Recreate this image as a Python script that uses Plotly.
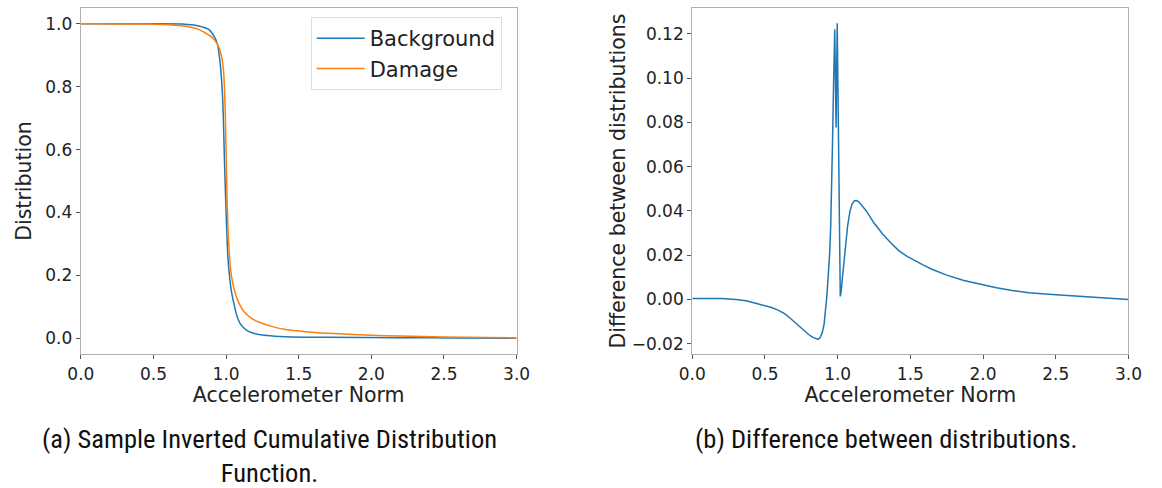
import plotly.graph_objects as go

# ---- Left panel: inverted CDFs ----
bg_x = [0.0, 0.5, 0.70, 0.81, 0.88, 0.916, 0.94, 0.96, 0.977, 0.99, 1.003, 1.012, 1.025, 1.04, 1.054, 1.075, 1.099, 1.14, 1.188, 1.28, 1.41, 1.7, 2.19, 2.6, 3.0]
bg_y = [1.0, 1.0, 0.999, 0.993, 0.982, 0.961, 0.935, 0.87, 0.756, 0.545, 0.36, 0.26, 0.19, 0.14, 0.11, 0.07, 0.045, 0.026, 0.016, 0.009, 0.005, 0.003, 0.002, 0.001, 0.0]

dm_x = [0.0, 0.45, 0.68, 0.81, 0.905, 0.94, 0.968, 0.984, 0.995, 1.007, 1.018, 1.036, 1.065, 1.09, 1.12, 1.17, 1.233, 1.32, 1.41, 1.55, 1.747, 2.0, 2.19, 2.5, 3.0]
dm_y = [1.0, 0.999, 0.994, 0.982, 0.956, 0.935, 0.898, 0.84, 0.703, 0.44, 0.30, 0.2, 0.14, 0.11, 0.087, 0.065, 0.05, 0.037, 0.028, 0.021, 0.015, 0.01, 0.007, 0.004, 0.001]

# ---- Right panel: difference between distributions ----
df_x = [0.0, 0.1, 0.2, 0.3, 0.37, 0.436, 0.49, 0.54, 0.59, 0.638, 0.68, 0.727, 0.765, 0.80,
        0.83, 0.85, 0.865, 0.88, 0.895, 0.907, 0.917, 0.925, 0.933, 0.94, 0.946, 0.952, 0.958,
        0.965, 0.972, 0.977, 0.980, 0.989, 0.997, 1.018, 1.024, 1.03, 1.04, 1.052, 1.068, 1.085,
        1.10, 1.115, 1.13, 1.145, 1.165, 1.197, 1.25, 1.309, 1.36, 1.42, 1.475, 1.53, 1.59,
        1.644, 1.75, 1.868, 1.98, 2.092, 2.2, 2.315, 2.45, 2.584, 2.7, 2.8, 2.9, 3.0]
df_y = [0.0005, 0.0005, 0.0004, 0.0, -0.0006, -0.0017, -0.0025, -0.0035, -0.0048, -0.0065,
        -0.0088, -0.0117, -0.0139, -0.0158, -0.0171, -0.0178, -0.018, -0.0172, -0.0147, -0.011,
        -0.005, 0.001, 0.0086, 0.015, 0.022, 0.033, 0.048, 0.072, 0.098, 0.114, 0.122, 0.0777,
        0.1247, 0.0014, 0.0035, 0.008, 0.015, 0.0236, 0.033, 0.040, 0.0432, 0.0446, 0.0447,
        0.0441, 0.0427, 0.040, 0.0345, 0.0296, 0.026, 0.0221, 0.0196, 0.0175, 0.0155, 0.0138,
        0.011, 0.0086, 0.0068, 0.0053, 0.0041, 0.003, 0.0024, 0.0018, 0.0012, 0.0008, 0.0004, 0.0]

x_ticks = [0.0, 0.5, 1.0, 1.5, 2.0, 2.5, 3.0]
left_y_ticks = [0.0, 0.2, 0.4, 0.6, 0.8, 1.0]
right_y_ticks = [-0.02, 0.0, 0.02, 0.04, 0.06, 0.08, 0.10, 0.12]
right_y_text = ["\u22120.02", "0.00", "0.02", "0.04", "0.06", "0.08", "0.10", "0.12"]

BLUE = "#1f77b4"
ORANGE = "#ff7f0e"
TICK_FONT = dict(family="DejaVu Sans", size=17, color="#222222")
TITLE_FONT = dict(family="DejaVu Sans", size=20.5, color="#222222")
CAP_FONT = dict(family="Liberation Sans Narrow, Roboto Condensed, Liberation Sans", size=26.5, color="#111111")

fig = go.Figure()
fig.add_trace(go.Scatter(x=bg_x, y=bg_y, mode="lines", name="Background",
                         line=dict(color=BLUE, width=1.5, shape="spline", smoothing=0.6),
                         xaxis="x", yaxis="y"))
fig.add_trace(go.Scatter(x=dm_x, y=dm_y, mode="lines", name="Damage",
                         line=dict(color=ORANGE, width=1.5, shape="spline", smoothing=0.6),
                         xaxis="x", yaxis="y"))
fig.add_trace(go.Scatter(x=df_x, y=df_y, mode="lines", name="Difference", showlegend=False,
                         line=dict(color=BLUE, width=1.5),
                         xaxis="x2", yaxis="y2"))

W, H = 1162, 488
def px_x(p):
    return p / W
def px_y(p):
    return 1 - p / H

axis_common = dict(showgrid=False, zeroline=False, showline=True, linecolor="#b0b0b0",
                   linewidth=1.2, mirror=True, ticks="outside", ticklen=4,
                   tickcolor="#555555", tickfont=TICK_FONT)

fig.update_layout(
    width=W, height=H,
    margin=dict(l=0, r=0, t=0, b=0),
    paper_bgcolor="white", plot_bgcolor="white",
    xaxis=dict(domain=[px_x(68.5), px_x(515)], range=[0, 3], tickvals=x_ticks,
               ticktext=[f"{v:.1f}" for v in x_ticks],
               title=dict(text="Accelerometer Norm", font=TITLE_FONT, standoff=0),
               anchor="y", **axis_common),
    yaxis=dict(domain=[px_y(354), px_y(8)], range=[-0.05, 1.05], tickvals=left_y_ticks,
               ticktext=[f"{v:.1f}" for v in left_y_ticks],
               title=dict(text="Distribution", font=TITLE_FONT, standoff=8),
               anchor="x", **axis_common),
    xaxis2=dict(domain=[px_x(695), px_x(1142)], range=[0, 3], tickvals=x_ticks,
                ticktext=[f"{v:.1f}" for v in x_ticks],
                title=dict(text="Accelerometer Norm", font=TITLE_FONT, standoff=0),
                anchor="y2", **axis_common),
    yaxis2=dict(domain=[px_y(354), px_y(8)], range=[-0.0246, 0.1316], tickvals=right_y_ticks,
                ticktext=right_y_text,
                title=dict(text="Difference between distributions", font=TITLE_FONT, standoff=0),
                anchor="x2", **axis_common),
    legend=dict(x=px_x(304), y=px_y(17), xanchor="left", yanchor="top",
                bgcolor="rgba(255,255,255,0.8)", bordercolor="#dddddd", borderwidth=1,
                font=dict(family="DejaVu Sans", size=21, color="#222222"),
                itemwidth=48, tracegroupgap=2),
    showlegend=True,
    annotations=[
        dict(text="(a) Sample Inverted Cumulative Distribution<br>Function.",
             x=px_x(262), y=px_y(455), xref="paper", yref="paper", showarrow=False,
             font=CAP_FONT, align="center", xanchor="center", yanchor="middle"),
        dict(text="(b) Difference between distributions.",
             x=px_x(894), y=px_y(438), xref="paper", yref="paper", showarrow=False,
             font=CAP_FONT, align="center", xanchor="center", yanchor="middle"),
    ],
)

fig.write_html("out.html")
